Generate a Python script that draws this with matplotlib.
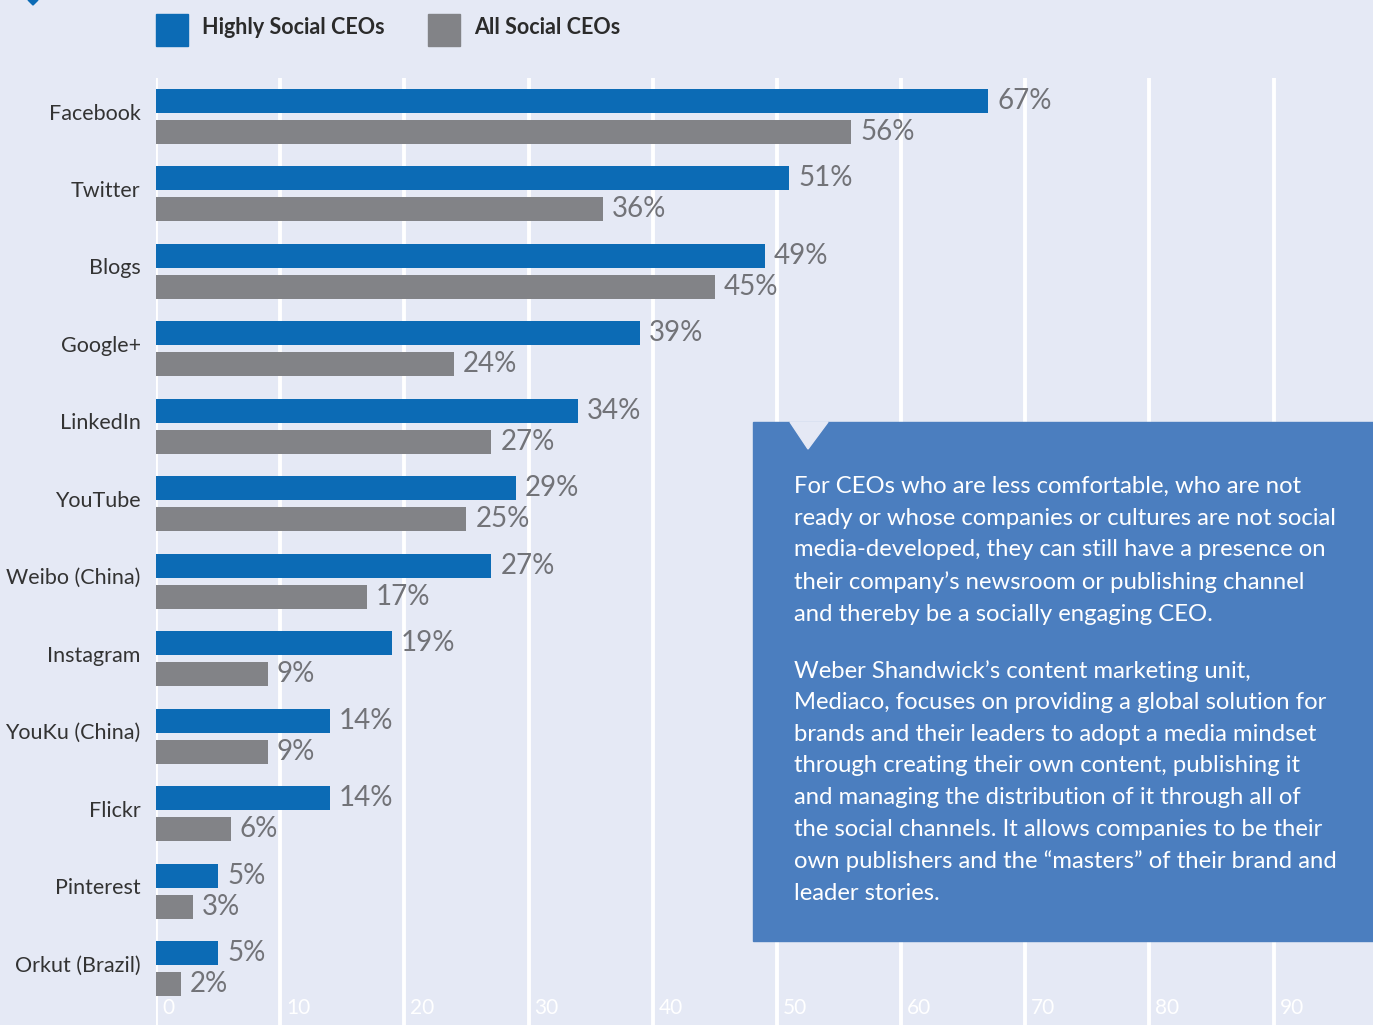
import matplotlib.pyplot as plt
from matplotlib.patches import Rectangle, Polygon
from matplotlib.transforms import ScaledTranslation
import numpy as np

plt.rcParams['font.family'] = ['Lato', 'DejaVu Sans']

platforms = ['Facebook', 'Twitter', 'Blogs', 'Google+', 'LinkedIn', 'YouTube',
             'Weibo (China)', 'Instagram', 'YouKu (China)', 'Flickr', 'Pinterest',
             'Orkut (Brazil)']
highly_social = [67, 51, 49, 39, 34, 29, 27, 19, 14, 14, 5, 5]
all_social = [56, 36, 45, 24, 27, 25, 17, 9, 9, 6, 3, 2]
xticks = [0, 10, 20, 30, 40, 50, 60, 70, 80, 90]
legend_labels = ['Highly Social CEOs', 'All Social CEOs']

para1 = ("For CEOs who are less comfortable, who are not\n"
         "ready or whose companies or cultures are not social\n"
         "media-developed, they can still have a presence on\n"
         "their company\u2019s newsroom or publishing channel\n"
         "and thereby be a socially engaging CEO.")
para2 = ("Weber Shandwick\u2019s content marketing unit,\n"
         "Mediaco, focuses on providing a global solution for\n"
         "brands and their leaders to adopt a media mindset\n"
         "through creating their own content, publishing it\n"
         "and managing the distribution of it through all of\n"
         "the social channels. It allows companies to be their\n"
         "own publishers and the \u201cmasters\u201d of their brand and\n"
         "leader stories.")

bg = '#e5e9f5'
blue = '#0c6bb5'
grey = '#828387'
box_col = '#4b7ebf'
W, H = 1373, 1025

fig = plt.figure(figsize=(W / 100, H / 100), dpi=100, facecolor=bg)
ax = fig.add_axes([156 / W, -10 / H, 1 - 156 / W, (1025 - 78 + 10) / H])
ax.set_facecolor(bg)

y = np.arange(len(platforms))
b1 = ax.barh(y - 0.2, highly_social, height=0.31, color=blue, zorder=3)
b2 = ax.barh(y + 0.2, all_social, height=0.31, color=grey, zorder=3)

for bars, vals in [(b1, highly_social), (b2, all_social)]:
    for bar, v in zip(bars, vals):
        ax.annotate(f'{v}%', (bar.get_width(), bar.get_y() + bar.get_height() / 2),
                    xytext=(9, 0), textcoords='offset pixels', va='center', ha='left',
                    fontsize=20, fontweight='normal', color='#727378')

ax.set_xlim(0, 98)
ax.set_ylim(11 + 66.5 / 77.45, -38.5 / 77.45)

ax.set_xticks(xticks)
ax.grid(axis='x', color='white', linewidth=2.8)
ax.set_axisbelow(True)
ax.tick_params(axis='x', length=0, pad=-27, labelcolor='white', labelsize=15)
for lbl in ax.get_xticklabels():
    lbl.set_ha('left')
    lbl.set_transform(lbl.get_transform() + ScaledTranslation(6 / 100, 0, fig.dpi_scale_trans))

ax.set_yticks(y)
ax.set_yticklabels(platforms)
ax.tick_params(axis='y', length=0, pad=11, labelcolor='#333333', labelsize=15.5)
for lbl in ax.get_yticklabels():
    lbl.set_transform(lbl.get_transform() + ScaledTranslation(0, 5 / 100, fig.dpi_scale_trans))
for s in ax.spines.values():
    s.set_visible(False)

# legend
for x0, col, lab in [(156, blue, legend_labels[0]), (428, grey, legend_labels[1])]:
    fig.patches.append(Rectangle((x0 / W, 1 - 46 / H), 32 / W, 32 / H,
                                 transform=fig.transFigure, color=col))
    fig.text((x0 + 46) / W, 1 - 28 / H, lab, fontsize=15.5, fontweight='bold',
             color='#2b2b2b', va='center', ha='left')

# small marker top left
fig.patches.append(Polygon([(28 / W, 1), (38 / W, 1), (33 / W, 1 - 5 / H)],
                           closed=True, transform=fig.transFigure, color=blue))

# callout box
fig.patches.append(Rectangle((753 / W, 1 - 941 / H), (1373 - 753) / W, (941 - 422) / H,
                             transform=fig.transFigure, color=box_col, zorder=5))
fig.patches.append(Polygon([(790 / W, 1 - 422 / H), (828 / W, 1 - 422 / H),
                            (808 / W, 1 - 449 / H)], closed=True,
                           transform=fig.transFigure, color=bg, zorder=6))
fig.text(794 / W, 1 - 476 / H, para1, fontsize=17.2, color='white', va='top',
         ha='left', linespacing=1.62, zorder=7)
fig.text(794 / W, 1 - 660 / H, para2, fontsize=17.2, color='white', va='top',
         ha='left', linespacing=1.62, zorder=7)

fig.savefig('out.png', dpi=100, facecolor=bg)
